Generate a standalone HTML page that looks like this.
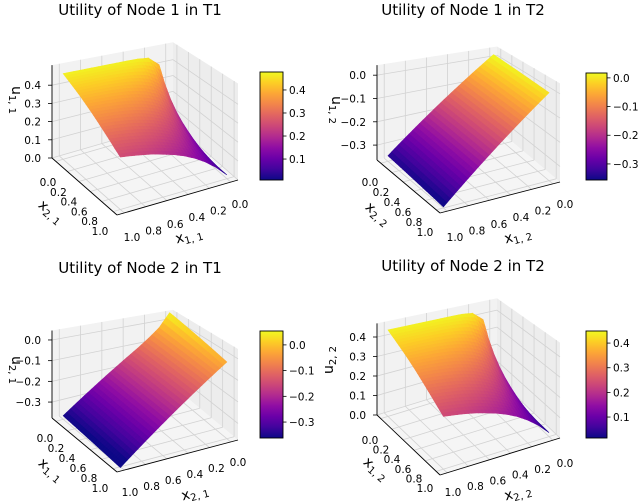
<!DOCTYPE html>
<html><head><meta charset="utf-8"><style>
html,body{margin:0;padding:0;background:#fff;}
svg{display:block;font-family:"DejaVu Sans","Liberation Sans",sans-serif;}
</style></head><body>
<svg id="fig" width="640" height="502" viewBox="0 0 640 502" xmlns="http://www.w3.org/2000/svg"></svg>
<script>
// ===== data (rows: left-axis value 0..1 step .1, cols: right-axis value 0..1 step .1) =====
const gridTicks = [0,0.1,0.2,0.3,0.4,0.5,0.6,0.7,0.8,0.9,1.0];
const axisTicks = [0.0,0.2,0.4,0.6,0.8,1.0];
const surfTL = [
[.02,.409,.462,.469,.47,.47,.47,.47,.47,.47,.47],
[.02,.318,.409,.438,.446,.45,.45,.45,.45,.45,.45],
[.02,.252,.352,.396,.414,.424,.427,.43,.43,.43,.43],
[.02,.205,.303,.354,.380,.394,.402,.406,.408,.409,.41],
[.02,.171,.261,.314,.345,.363,.374,.381,.384,.387,.388],
[.02,.146,.226,.278,.311,.332,.346,.354,.360,.364,.366],
[.02,.125,.197,.246,.279,.302,.317,.328,.335,.340,.343],
[.02,.109,.173,.218,.250,.273,.289,.301,.309,.315,.319],
[.02,.096,.152,.193,.224,.246,.263,.275,.284,.291,.296],
[.02,.085,.134,.171,.200,.221,.238,.250,.260,.267,.272],
[.02,.075,.118,.152,.178,.198,.213,.227,.236,.244,.250]];
const surfTR = [
[.020,-.016,-.052,-.088,-.124,-.160,-.196,-.232,-.268,-.304,-.340],
[.018,-.018,-.054,-.090,-.126,-.162,-.198,-.234,-.270,-.306,-.342],
[.016,-.020,-.056,-.092,-.128,-.164,-.200,-.236,-.272,-.308,-.344],
[.014,-.022,-.058,-.094,-.130,-.166,-.202,-.238,-.274,-.310,-.346],
[.012,-.024,-.060,-.096,-.132,-.168,-.204,-.240,-.276,-.312,-.348],
[.010,-.026,-.062,-.098,-.134,-.170,-.206,-.242,-.278,-.314,-.350],
[.008,-.028,-.064,-.100,-.136,-.172,-.208,-.244,-.280,-.316,-.352],
[.006,-.030,-.066,-.102,-.138,-.174,-.210,-.246,-.282,-.318,-.354],
[.004,-.032,-.068,-.104,-.140,-.176,-.212,-.248,-.284,-.320,-.356],
[.002,-.034,-.070,-.106,-.142,-.178,-.214,-.250,-.286,-.322,-.358],
[.000,-.036,-.072,-.108,-.144,-.180,-.216,-.252,-.288,-.324,-.360]];
const surfBL = [
[.050,-.022,-.068,-.108,-.144,-.180,-.216,-.252,-.288,-.324,-.360],
[.043,-.025,-.071,-.110,-.146,-.182,-.218,-.254,-.290,-.326,-.362],
[.036,-.029,-.073,-.112,-.148,-.184,-.220,-.256,-.292,-.328,-.364],
[.029,-.032,-.075,-.114,-.150,-.186,-.222,-.258,-.294,-.330,-.366],
[.022,-.036,-.078,-.116,-.152,-.188,-.224,-.260,-.296,-.332,-.368],
[.015,-.039,-.080,-.118,-.154,-.190,-.226,-.262,-.298,-.334,-.370],
[.008,-.042,-.082,-.120,-.156,-.192,-.228,-.264,-.300,-.336,-.372],
[.001,-.046,-.085,-.122,-.158,-.194,-.230,-.266,-.302,-.338,-.374],
[-.006,-.049,-.087,-.124,-.160,-.196,-.232,-.268,-.304,-.340,-.376],
[-.013,-.053,-.089,-.126,-.162,-.198,-.234,-.270,-.306,-.342,-.378],
[-.020,-.056,-.092,-.128,-.164,-.200,-.236,-.272,-.308,-.344,-.380]];
const surfBR = [
[.02,.385,.434,.441,.442,.442,.442,.442,.442,.442,.442],
[.02,.299,.384,.412,.419,.423,.423,.423,.423,.423,.423],
[.02,.237,.331,.372,.389,.399,.401,.404,.404,.404,.404],
[.02,.193,.285,.333,.357,.370,.378,.382,.384,.384,.385],
[.02,.161,.245,.295,.324,.341,.352,.358,.361,.364,.365],
[.02,.137,.212,.261,.292,.312,.325,.333,.338,.342,.344],
[.02,.118,.185,.231,.262,.284,.298,.308,.315,.320,.322],
[.02,.102,.163,.205,.235,.257,.272,.283,.290,.296,.300],
[.02,.090,.143,.181,.211,.231,.247,.259,.267,.274,.278],
[.02,.080,.126,.161,.188,.208,.224,.235,.244,.251,.256],
[.02,.071,.111,.143,.167,.186,.200,.213,.222,.229,.235]];
const zTicksPos = [0.0,0.1,0.2,0.3,0.4];
const zTicksNeg = [0.0,-0.1,-0.2,-0.3];
const cbTicksPos = [0.1,0.2,0.3,0.4];
const cbTicksNeg = [-0.3,-0.2,-0.1,0.0];
const titles = ["Utility of Node 1 in T1","Utility of Node 1 in T2","Utility of Node 2 in T1","Utility of Node 2 in T2"];

// ===== layout =====
const plasma = ["#0d0887","#41049d","#6a00a8","#8f0da4","#b12a90","#cc4778","#e16462","#f2844b","#fca636","#fcce25","#f0f921"];
const M = 0.06; // axis margin inset
const panels = [
 {name:"tl",ox:0,oy:0,data:surfTL,A:[52,158],F:[117,215],R:[238,180],zmin:0,zs:182,zmax:0.51,zt:zTicksPos,
  vmin:0.009,vmax:0.478,cb:[260,72,23,108],cbt:cbTicksPos,tx:140,ty:15,
  bl0:[48,182],bl1:[100,231],al1:[132,237],al0:[240,204],zlab:"u",zs1:"1, 1",zrot:90,zl:[12,100],
  blab:["x","2, 1"],bpos:[48,215],alab:["x","1, 1"],apos:[190,240]},
 {name:"tr",ox:320,oy:0,data:surfTR,A:[57,160],F:[120,213],R:[240,182],zmin:-0.364,zs:233,zmax:0.043,zt:zTicksNeg,
  vmin:-0.356,vmax:0.017,cb:[266,73,21,107],cbt:cbTicksNeg,tx:143,ty:15,
  bl0:[50,182],bl1:[105,232],al1:[135,237],al0:[245,204],zlab:"u",zs1:"1, 2",zrot:90,zl:[12,110],
  blab:["x","2, 2"],bpos:[55,217],alab:["x","1, 2"],apos:[199,240]},
 {name:"bl",ox:0,oy:250,data:surfBL,A:[52,168],F:[117,222],R:[238,190],zmin:-0.377,zs:207,zmax:0.046,zt:zTicksNeg,
  vmin:-0.362,vmax:0.054,cb:[260,81,23,107],cbt:cbTicksNeg,tx:140,ty:23,
  bl0:[45,188],bl1:[100,238],al1:[130,242],al0:[238,212],zlab:"u",zs1:"2, 1",zrot:90,zl:[12,120],
  blab:["x","1, 1"],bpos:[48,223],alab:["x","2, 1"],apos:[196,247]},
 {name:"br",ox:320,oy:250,data:surfBR,A:[57,165],F:[120,225],R:[240,188],zmin:0,zs:195,zmax:0.47,zt:zTicksPos,
  vmin:0.015,vmax:0.449,cb:[266,81,21,107],cbt:cbTicksPos,tx:143,ty:21,
  bl0:[50,190],bl1:[105,238],al1:[133,242],al0:[245,213],zlab:"u",zs1:"2, 2",zrot:-90,zl:[13,110],
  blab:["x","1, 2"],bpos:[53,222],alab:["x","2, 2"],apos:[199,247]}
];

const NS="http://www.w3.org/2000/svg";
const fig=document.getElementById('fig');
function mk(tag,attrs,parent){const e=document.createElementNS(NS,tag);for(const k in attrs)e.setAttribute(k,attrs[k]);parent.appendChild(e);return e;}
function hex2rgb(h){return [parseInt(h.slice(1,3),16),parseInt(h.slice(3,5),16),parseInt(h.slice(5,7),16)];}
const pl=plasma.map(hex2rgb);
function cmap(t){t=Math.max(0,Math.min(1,t));const f=t*10,i=Math.min(9,Math.floor(f)),r=f-i;
 const c=pl[i].map((v,k)=>Math.round(v+(pl[i+1][k]-v)*r));return `rgb(${c[0]},${c[1]},${c[2]})`;}
function fmt(v){const s=Math.abs(v).toFixed(1);return (v<-1e-9?"\u2212":"")+s;}

panels.forEach(p=>{
 const g=mk('g',{transform:`translate(${p.ox},${p.oy})`},fig);
 
 
 // box coords (0..1 on each horizontal axis)
 const B=(a,b,z)=>{const f=0.87+0.13*a+0.17*b;
   return [p.F[0]+(1-a)*(p.R[0]-p.F[0])+(1-b)*(p.A[0]-p.F[0]),
           p.F[1]+(1-a)*(p.R[1]-p.F[1])+(1-b)*(p.A[1]-p.F[1])-(z-p.zmin)*p.zs*f];};
 // data coords (inset by margin)
 const P=(a,b,z)=>B(M+a*(1-2*M),M+b*(1-2*M),z);
 const pts=arr=>arr.map(q=>q[0].toFixed(2)+','+q[1].toFixed(2)).join(' ');
 const t=mk('text',{x:p.tx,y:p.ty,'text-anchor':'middle','font-size':15,fill:'#000'},g);
 t.textContent=titles[panels.indexOf(p)];
 
 
 const panes=mk('g',{},g);
 
 
 mk('polygon',{points:pts([B(0,0,p.zmin),B(1,0,p.zmin),B(1,0,p.zmax),B(0,0,p.zmax)]),fill:'#f2f2f2'},panes);
 mk('polygon',{points:pts([B(0,0,p.zmin),B(0,1,p.zmin),B(0,1,p.zmax),B(0,0,p.zmax)]),fill:'#ededed'},panes);
 mk('polygon',{points:pts([B(0,0,p.zmin),B(1,0,p.zmin),B(1,1,p.zmin),B(0,1,p.zmin)]),fill:'#f5f5f5'},panes);
 const gl=(q1,q2)=>mk('line',{x1:q1[0],y1:q1[1],x2:q2[0],y2:q2[1],stroke:'#d2d2d2','stroke-width':0.8},panes);
 const iv=v=>M+v*(1-2*M);
 axisTicks.forEach(v=>{const w=iv(v);
  gl(B(w,0,p.zmin),B(w,1,p.zmin)); gl(B(0,w,p.zmin),B(1,w,p.zmin));
  gl(B(w,0,p.zmin),B(w,0,p.zmax)); gl(B(0,w,p.zmin),B(0,w,p.zmax));
 });
 p.zt.forEach(z=>{gl(B(0,0,z),B(1,0,z)); gl(B(0,0,z),B(0,1,z));});
 const ax=mk('g',{stroke:'#000','stroke-width':0.9},g);
 
 
 let q1=B(1,0,p.zmin),q2=B(1,1,p.zmin);mk('line',{x1:q1[0],y1:q1[1],x2:q2[0],y2:q2[1]},ax);
 q1=B(1,1,p.zmin);q2=B(0,1,p.zmin);mk('line',{x1:q1[0],y1:q1[1],x2:q2[0],y2:q2[1]},ax);
 q1=B(1,0,p.zmin);q2=B(1,0,p.zmax);mk('line',{x1:q1[0],y1:q1[1],x2:q2[0],y2:q2[1]},ax);
 const sg=mk('g',{},g);
 
 
 const D=p.data,n=gridTicks.length-1,S=3,quads=[];
 const zAt=(i,j,u,v)=>{const z00=D[i][j],z01=D[i][j+1],z10=D[i+1][j],z11=D[i+1][j+1];
   return z00*(1-u)*(1-v)+z01*(1-u)*v+z10*u*(1-v)+z11*u*v;};
 for(let i=0;i<n;i++)for(let j=0;j<n;j++)for(let su=0;su<S;su++)for(let sv=0;sv<S;sv++){
  const u0=su/S,u1=(su+1)/S,v0=sv/S,v1=(sv+1)/S;
  const b0=gridTicks[i]+(gridTicks[i+1]-gridTicks[i])*u0,b1=gridTicks[i]+(gridTicks[i+1]-gridTicks[i])*u1;
  const a0=gridTicks[j]+(gridTicks[j+1]-gridTicks[j])*v0,a1=gridTicks[j]+(gridTicks[j+1]-gridTicks[j])*v1;
  const zs=[zAt(i,j,u0,v0),zAt(i,j,u0,v1),zAt(i,j,u1,v1),zAt(i,j,u1,v0)];
  const zm=(zs[0]+zs[1]+zs[2]+zs[3])/4;
  quads.push({d:a0+a1+b0+b1,pts:[P(a0,b0,zs[0]),P(a1,b0,zs[1]),P(a1,b1,zs[2]),P(a0,b1,zs[3])],z:zm});
 }
 quads.sort((x,y)=>x.d-y.d);
 quads.forEach(q=>{const c=cmap((q.z-p.vmin)/(p.vmax-p.vmin));
  mk('polygon',{points:pts(q.pts),fill:c,stroke:c,'stroke-width':0.6},sg);});
 const tl=mk('g',{'font-size':10.5,fill:'#000'},g);
 
 
 p.zt.forEach(z=>{const q=B(1,0,z);
  mk('line',{x1:q[0]-4,y1:q[1],x2:q[0],y2:q[1],stroke:'#000','stroke-width':0.8},tl);
  const e=mk('text',{x:q[0]-11,y:q[1]+4,'text-anchor':'end'},tl);e.textContent=fmt(z);});
 axisTicks.forEach(v=>{
  const e=mk('text',{x:p.bl0[0]+(p.bl1[0]-p.bl0[0])*v,y:p.bl0[1]+(p.bl1[1]-p.bl0[1])*v+4,'text-anchor':'middle'},tl);
  e.textContent=fmt(v);
  const f=mk('text',{x:p.al0[0]+(p.al1[0]-p.al0[0])*v,y:p.al0[1]+(p.al1[1]-p.al0[1])*v+4,'text-anchor':'middle'},tl);
  f.textContent=fmt(v);
 });
 const lab=(txt,pos,rot,nm)=>{const e=mk('text',{x:pos[0],y:pos[1],'text-anchor':'middle','font-size':14,
   transform:`rotate(${rot} ${pos[0]} ${pos[1]})`},g);
  
  
  const a=mk('tspan',{},e);a.textContent=txt[0];
  const b=mk('tspan',{'font-size':10,dy:3},e);b.textContent=txt[1];};
 lab(p.blab,p.bpos,40,'left-axis-title');
 lab(p.alab,p.apos,-15,'right-axis-title');
 lab([p.zlab,p.zs1],p.zl,p.zrot,'z-axis-title');
 const cb=mk('g',{},g);
 
 
 const gid='grad'+p.name;
 const lg=mk('linearGradient',{id:gid,x1:0,y1:1,x2:0,y2:0},mk('defs',{},cb));
 plasma.forEach((c,k)=>mk('stop',{offset:k/10,'stop-color':c},lg));
 const [cx,cy,cw,ch]=p.cb;
 mk('rect',{x:cx,y:cy,width:cw,height:ch,fill:`url(#${gid})`,stroke:'#000','stroke-width':0.9},cb);
 p.cbt.forEach(v=>{const y=cy+ch-(v-p.vmin)/(p.vmax-p.vmin)*ch;
  mk('line',{x1:cx+cw,y1:y,x2:cx+cw+3.5,y2:y,stroke:'#000','stroke-width':0.8},cb);
  const e=mk('text',{x:cx+cw+6,y:y+4,'font-size':10.5},cb);e.textContent=fmt(v);});
});
</script>
</body></html>
